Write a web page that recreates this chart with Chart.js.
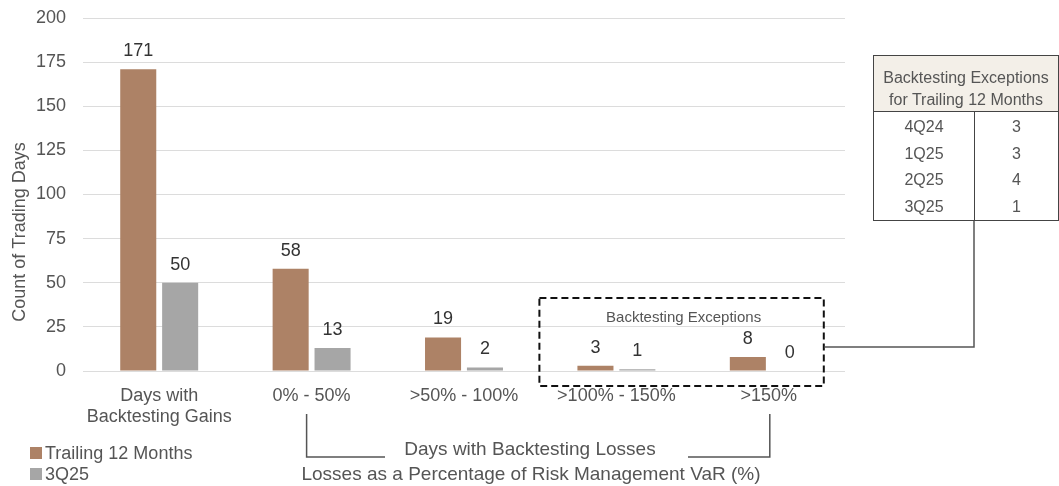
<!DOCTYPE html>
<html>
<head>
<meta charset="utf-8">
<script src="https://cdn.jsdelivr.net/npm/chart.js@4/dist/chart.umd.min.js"></script>
<style>
  html, body { margin:0; padding:0; background:#fff; width:1059px; height:486px; overflow:hidden; }
  #wrap { position:relative; width:1059px; height:486px; }
  canvas { position:absolute; left:0; top:0; }
  #tbl { position:absolute; left:873px; top:55px; border-collapse:collapse; font-family:"Liberation Sans", Arial, sans-serif; font-size:16px; color:#555; }
  #tbl th { background:#f3efe8; font-weight:normal; line-height:22px; border:1.5px solid #444; padding:11px 0 0 0; height:43px; text-align:center; width:190px; white-space:nowrap; }
  #tbl td { height:26.5px; padding:0; text-align:center; border-left:1.5px solid #444; border-right:1.5px solid #444; }
  #tbl tr:nth-child(2) td { padding-top:2px; }
  #tbl tr:last-child td { border-bottom:1.5px solid #444; }
  #tbl td.c1 { width:100px; }
</style>
</head>
<body>
<div id="wrap">
  <canvas id="c" width="1059" height="486"></canvas>
  <table id="tbl"></table>
</div>
<script>
// ---- data ----
const categories = [["Days with", "Backtesting Gains"], "0% - 50%", ">50% - 100%", ">100% - 150%", ">150%"];
const trailing12 = [171, 58, 19, 3, 8];
const q3_25 = [50, 13, 2, 1, 0];
const seriesNames = ["Trailing 12 Months", "3Q25"];
const yTicks = [0, 25, 50, 75, 100, 125, 150, 175, 200];
const tableQuarters = ["4Q24", "1Q25", "2Q25", "3Q25"];
const tableExceptions = [3, 3, 4, 1];

const BROWN = "#ad8266";
const GRAY = "#a6a6a6";
const TXT = "#555555";
const FONT = '"Liberation Sans", Arial, sans-serif';

// ---- table ----
(function(){
  const t = document.getElementById('tbl');
  let h = '<tr><th colspan="2">Backtesting Exceptions<br>for Trailing 12 Months</th></tr>';
  tableQuarters.forEach((q,i)=>{
    h += '<tr><td class="c1">'+q+'</td><td>'+tableExceptions[i]+'</td></tr>';
  });
  t.innerHTML = h;
})();

// ---- plugins ----
const valueLabels = {
  id:'valueLabels',
  afterDatasetsDraw(chart){
    const ctx = chart.ctx;
    ctx.save();
    ctx.font = '18px ' + FONT;
    ctx.fillStyle = '#333';
    ctx.textAlign = 'center';
    ctx.textBaseline = 'alphabetic';
    chart.data.datasets.forEach((ds, di)=>{
      const meta = chart.getDatasetMeta(di);
      meta.data.forEach((bar, i)=>{
        ctx.fillText(String(ds.data[i]), bar.x, bar.y - 13);
      });
    });
    ctx.restore();
  }
};

const annotations = {
  id:'annotations',
  afterDraw(chart){
    const ctx = chart.ctx;
    const xs = chart.scales.x;
    const c1 = xs.getPixelForValue(1), c3 = xs.getPixelForValue(3), c4 = xs.getPixelForValue(4);
    ctx.save();
    // y-axis title
    ctx.save();
    ctx.translate(20, 232);
    ctx.rotate(-Math.PI/2);
    ctx.font = '18px ' + FONT;
    ctx.fillStyle = TXT;
    ctx.textAlign = 'center';
    ctx.textBaseline = 'middle';
    ctx.fillText('Count of Trading Days', 0, 0);
    ctx.restore();

    // dashed box
    const bx0 = c3 - 77, bx1 = c4 + 55, by0 = 298, by1 = 386;
    ctx.strokeStyle = '#111';
    ctx.lineWidth = 2;
    ctx.setLineDash([7,4]);
    ctx.strokeRect(bx0, by0, bx1 - bx0, by1 - by0);
    ctx.setLineDash([]);
    ctx.font = '15px ' + FONT;
    ctx.fillStyle = TXT;
    ctx.textAlign = 'center';
    ctx.textBaseline = 'middle';
    ctx.fillText('Backtesting Exceptions', (bx0 + bx1)/2 + 2, 318);

    // connector to table
    ctx.strokeStyle = '#555';
    ctx.lineWidth = 1.5;
    ctx.beginPath();
    ctx.moveTo(bx1 + 1, 347);
    ctx.lineTo(974, 347);
    ctx.lineTo(974, 221);
    ctx.stroke();

    // bottom brackets
    const lx = c1 - 5, rx = c4 + 1;
    ctx.beginPath();
    ctx.moveTo(lx, 414); ctx.lineTo(lx, 457); ctx.lineTo(385, 457);
    ctx.moveTo(rx, 414); ctx.lineTo(rx, 457); ctx.lineTo(688, 457);
    ctx.stroke();

    ctx.font = '19px ' + FONT;
    ctx.fillStyle = TXT;
    ctx.fillText('Days with Backtesting Losses', 530, 450);
    ctx.fillText('Losses as a Percentage of Risk Management VaR (%)', 531, 475);

    // legend
    const items = [[seriesNames[0], BROWN, 453], [seriesNames[1], GRAY, 474]];
    ctx.textAlign = 'left';
    ctx.font = '18px ' + FONT;
    items.forEach(([lab, col, y])=>{
      ctx.fillStyle = col;
      ctx.fillRect(30, y - 6, 12, 12);
      ctx.fillStyle = TXT;
      ctx.fillText(lab, 45, y + 1);
    });
    ctx.restore();
  }
};

new Chart(document.getElementById('c'), {
  type:'bar',
  data:{
    labels: categories,
    datasets:[
      { label: seriesNames[0], data: trailing12, backgroundColor: BROWN, categoryPercentage:0.55, barPercentage:0.86 },
      { label: seriesNames[1], data: q3_25, backgroundColor: GRAY, categoryPercentage:0.55, barPercentage:0.86 }
    ]
  },
  options:{
    responsive:false,
    animation:false,
    devicePixelRatio:1,
    layout:{ padding:{ left:0, top:18, right:214, bottom:55 } },
    plugins:{ legend:{ display:false }, tooltip:{ enabled:false } },
    scales:{
      x:{
        grid:{ display:false, drawTicks:false },
        border:{ display:false },
        ticks:{ color:TXT, font:{ family:FONT, size:18, lineHeight:1.2 }, padding:14, maxRotation:0, autoSkip:false },
        afterFit(s){ s.height = 60; s.paddingLeft = 0; s.paddingRight = 0; }
      },
      y:{
        min:0, max:200,
        afterBuildTicks(s){ s.ticks = yTicks.map(v=>({value:v})); },
        grid:{ color:'#dcdcdc', lineWidth:1, drawTicks:false },
        border:{ display:false },
        ticks:{ color:TXT, font:{ family:FONT, size:18 }, padding:17 },
        afterFit(s){ s.width = 83; s.paddingTop = 0; s.paddingBottom = 0; }
      }
    }
  },
  plugins:[valueLabels, annotations]
});
</script>
</body>
</html>
